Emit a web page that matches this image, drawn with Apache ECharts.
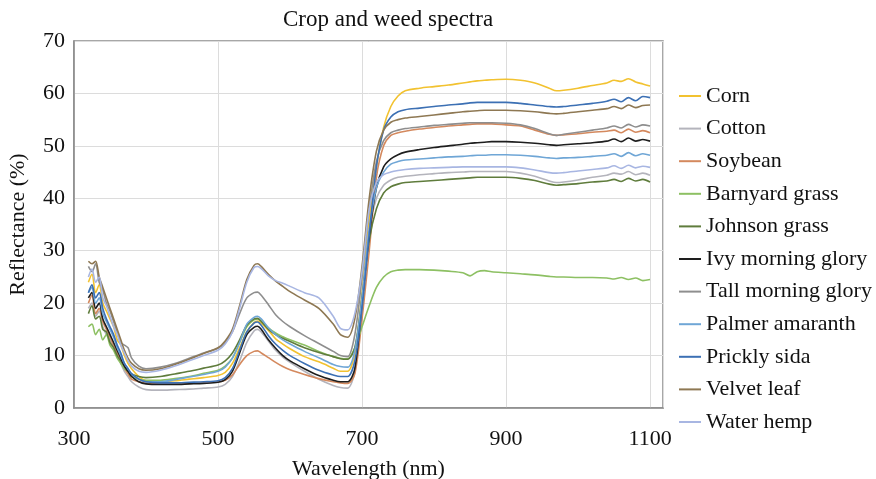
<!DOCTYPE html>
<html>
<head>
<meta charset="utf-8">
<script src="https://cdn.jsdelivr.net/npm/echarts@6/dist/echarts.min.js"></script>
<style>
  html, body { margin: 0; padding: 0; background: #fff; }
  #chart { width: 876px; height: 479px; }
</style>
</head>
<body>
<div id="chart"></div>
<script>
// Wavelengths (nm) shared by every series
const wavelengths = [
  320,325,330,335,340,345,350,355,360,365,370,375,380,
  390,400,
  420,440,460,480,500,
  510,520,530,540,550,555,560,570,580,590,600,
  620,640,660,670,680,690,
  700,710,720,730,740,750,760,
  780,800,820,840,850,860,870,880,
  900,920,940,960,970,980,
  1000,1020,1040,1050,1060,1070,1080,1090,1100
];

const seriesNames = ["Corn","Cotton","Soybean","Barnyard grass","Johnson grass","Ivy morning glory","Tall morning glory","Palmer amaranth","Prickly sida","Velvet leaf","Water hemp"];

const corn = [
  24,25.5,22,23.5,20,18.5,17,15.5,13,12,10,8.5,7.5,
  6,5.2,
  5.0,5.2,5.5,5.8,6.2,
  6.8,8.5,11.5,14.5,16.3,16.6,16.2,14.8,13.2,12.2,11.3,
  9.8,8.8,7.6,7.0,7.0,10.5,
  22,36,46,53.5,57.5,59.5,60.5,
  61,61.3,61.6,62,62.2,62.4,62.5,62.6,
  62.7,62.5,62,61,60.5,60.6,
  61,61.5,62,62.5,62.3,62.8,62.2,61.8,61.4
];
const cotton = [
  19,20,17.5,18.5,15.5,14,13,11.5,10,8.5,7,6,5,
  4,3.5,
  3.4,3.5,3.6,3.8,4.0,
  4.5,6,9,12.5,14.7,15,14.5,12.8,11,9.7,8.7,
  7,5.5,4.3,3.9,3.8,7,
  21,34,40,42.5,43.5,44,44.2,
  44.5,44.7,44.9,45,45.1,45.1,45.1,45.1,
  45.1,44.8,44.2,43.3,43,43.1,
  43.5,44,44.4,44.8,44.6,45.1,44.5,44.8,44.4
];
const soybean = [
  20,21.5,18,19,16.5,15,13.5,12,10.5,9,7.5,6.5,5.5,
  5,4.8,
  4.6,4.6,4.7,4.8,5.0,
  5.3,6.3,8.3,10,10.8,10.9,10.5,9.6,8.7,7.9,7.3,
  6.4,5.6,5.0,4.8,4.7,6.5,
  17,30,44,50,52,52.5,52.8,
  53.2,53.5,53.8,54,54.1,54.2,54.2,54.2,
  54,53.8,53,52.2,52,52.1,
  52.3,52.6,52.8,53,52.5,53.2,52.6,52.9,52.5
];
const barnyardGrass = [
  15.5,16,14,15,13,14,12,11,9.5,8.5,7.5,7,6,
  5.5,5.3,
  5.3,5.6,6.0,6.6,7.2,
  8.0,9.5,12.5,15.5,16.8,17,16.6,15.3,14.3,13.6,13,
  12,10.8,9.8,9.5,9.4,11.5,
  15.5,19.5,23,25,26,26.3,26.4,
  26.4,26.3,26.1,25.8,25.2,26,26.2,26,
  25.8,25.6,25.4,25.1,25,25,
  24.9,24.9,24.8,24.6,24.9,24.5,24.8,24.3,24.5
];
const johnsonGrass = [
  18,19.5,17,17.5,15,14.5,12.5,11.5,10,9,8,7,6.5,
  6,5.8,
  6.0,6.5,7.0,7.6,8.2,
  9,10.5,13,15.8,17,17.1,16.5,15,14,13.3,12.7,
  11.5,10.6,9.8,9.4,9.3,11.5,
  21,32,38,41,42.2,42.7,43,
  43.2,43.4,43.6,43.8,43.9,44,44,44,
  44,43.8,43.4,42.7,42.5,42.6,
  42.8,43.1,43.3,43.6,43.2,43.8,43.3,43.6,43.1
];
const ivyMorningGlory = [
  21,22,19,20,17,15.5,14,12.5,11,9.5,8,7,6,
  5,4.6,
  4.5,4.5,4.6,4.7,4.9,
  5.4,7,10.5,14,15.4,15.6,15,13,11.4,10,9,
  7.5,6.2,5.3,5.0,5.0,7.5,
  20,33,42,46,47.5,48.3,48.8,
  49.3,49.7,50,50.3,50.5,50.6,50.7,50.8,
  50.8,50.7,50.5,50.2,50.1,50.2,
  50.4,50.6,50.9,51.3,50.8,51.5,50.9,51.2,50.9
];
const tallMorningGlory = [
  27,26,27.5,24,22.5,20,18.5,16.5,14.5,12.5,12,11.5,9.5,
  8,7.5,
  7.8,8.5,9.5,10.5,11.4,
  12.5,14.5,18,21,22,22.1,21.5,19.7,17.8,16.5,15.5,
  13.8,12.3,10.8,10.0,9.8,14,
  25,38,47,51,52.5,53,53.3,
  53.6,53.9,54.1,54.3,54.4,54.4,54.4,54.4,
  54.3,54,53.3,52.3,52,52.2,
  52.6,53,53.4,53.8,53.4,54.1,53.6,54,53.8
];
const palmerAmaranth = [
  22,23,20,21,18,16.5,15,13.5,11.5,10,8.5,7.5,6.5,
  5.5,5.0,
  5.0,5.4,5.9,6.4,7.0,
  7.8,9.5,12.5,16,17.3,17.5,17,15.3,14,13,12.2,
  10.8,9.6,8.3,7.9,7.8,11,
  21,34,42,45,46.5,47,47.3,
  47.5,47.7,47.9,48,48.1,48.2,48.2,48.3,
  48.3,48.2,48,47.7,47.6,47.7,
  47.8,48,48.2,48.5,48,48.7,48.1,48.5,48.2
];
const pricklySida = [
  22,23.5,21,22,19,17,15.5,14,12,10.5,8.5,7.5,6.5,
  5.5,5.0,
  4.8,4.8,4.9,5.0,5.2,
  5.8,7.5,11,14.5,16.2,16.4,15.8,13.8,12.2,11,10,
  8.5,7.2,6.3,6.0,6.0,9,
  19,33,46,53,55.5,56.5,56.9,
  57.2,57.5,57.8,58,58.2,58.3,58.3,58.3,
  58.3,58.1,57.8,57.5,57.4,57.5,
  57.8,58.1,58.5,58.9,58.4,59.2,58.6,59.4,59.2
];
const velvetLeaf = [
  28,27.5,28,25,23,21,19,17,15,13,11,9.5,8.5,
  7.5,7.2,
  7.5,8.3,9.3,10.4,11.5,
  12.8,15,19.5,24.5,27.2,27.5,27,25.5,24.2,23.2,22.2,
  20.6,19,16,14,13.5,17,
  27,40,49,53,54.5,55,55.3,
  55.6,55.9,56.2,56.5,56.6,56.7,56.8,56.8,
  56.8,56.7,56.5,56.2,56.1,56.2,
  56.5,56.8,57.1,57.5,57.1,57.8,57.3,57.7,57.8
];
const waterHemp = [
  25,26.5,24,25,21,19.5,17.5,15.5,14,12,10.5,9,8,
  7,6.8,
  7.2,8.0,9.0,10.0,11.0,
  12.2,14.5,19,24,26.8,27,26.6,25.2,24.3,23.8,23.2,
  22,21,17.5,15.2,14.9,18,
  26,38,43,44.5,45,45.3,45.5,
  45.7,45.8,45.9,46,46,46,46,46,
  46,45.8,45.4,44.9,44.8,44.9,
  45.2,45.5,45.8,46.2,45.7,46.3,45.8,46.1,45.9
];

const seriesValues = [corn, cotton, soybean, barnyardGrass, johnsonGrass, ivyMorningGlory, tallMorningGlory, palmerAmaranth, pricklySida, velvetLeaf, waterHemp];
const colors = ["#F2C230","#B4B4BC","#D4895E","#8DC063","#5F7C3C","#1E1E1E","#8E8E8E","#6FA6D6","#3C70B4","#8E7853","#A8B6E2"];

const FONT = "Liberation Serif";
const FS = 22;
const chart = echarts.init(document.getElementById('chart'));
chart.setOption({
  backgroundColor: '#ffffff',
  animation: false,
  color: colors,
  title: {
    text: 'Crop and weed spectra',
    left: 278, top: 3,
    textStyle: { fontFamily: FONT, fontSize: 23, fontWeight: 'normal', color: '#111' }
  },
  grid: {
    left: 74, right: 213, top: 41, bottom: 71,
    outerBoundsMode: 'none',
    containLabel: false,
    show: true, borderColor: '#8a8a8a', borderWidth: 1.5
  },
  legend: {
    orient: 'vertical',
    left: 679, top: 85, padding: 0,
    icon: 'rect', itemWidth: 22, itemHeight: 2,
    itemGap: 10.6,
    textStyle: { fontFamily: FONT, fontSize: FS, color: '#111', lineHeight: 22 },
    data: seriesNames
  },
  xAxis: {
    type: 'value', min: 300, max: 1118, interval: 200,
    name: 'Wavelength (nm)', nameLocation: 'middle', nameGap: 50,
    nameTextStyle: { fontFamily: FONT, fontSize: FS, color: '#111' },
    axisLine: { show: true, lineStyle: { color: '#8a8a8a', width: 1.5 } },
    axisTick: { show: false },
    axisLabel: { fontFamily: FONT, fontSize: FS, color: '#111', margin: 20, showMaxLabel: false,
                 formatter: v => String(v) },
    splitLine: { show: true, lineStyle: { color: '#dcdcdc', width: 1 } }
  },
  yAxis: {
    type: 'value', min: 0, max: 70, interval: 10,
    name: 'Reflectance (%)', nameLocation: 'middle', nameGap: 45, nameRotate: 90,
    nameTextStyle: { fontFamily: FONT, fontSize: FS, color: '#111' },
    axisLine: { show: true, lineStyle: { color: '#8a8a8a', width: 1.5 } },
    axisTick: { show: false },
    axisLabel: { fontFamily: FONT, fontSize: FS, color: '#111', margin: 9 },
    splitLine: { show: true, lineStyle: { color: '#dcdcdc', width: 1 } }
  },
  series: seriesNames.map((name, i) => ({
    name: name,
    type: 'line',
    showSymbol: false,
    smooth: 0.3,
    lineStyle: { width: 1.6 },
    data: wavelengths.map((w, j) => [w, seriesValues[i][j]])
  }))
});
</script>
</body>
</html>
